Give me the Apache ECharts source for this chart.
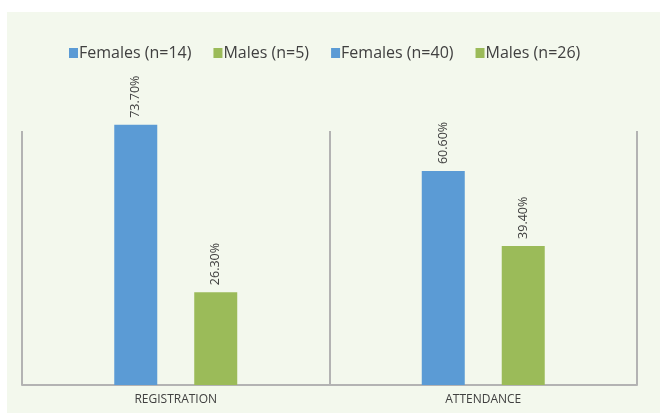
<!DOCTYPE html>
<html>
<head>
<meta charset="utf-8">
<script src="https://cdn.jsdelivr.net/npm/echarts@6/dist/echarts.min.js"></script>
<style>
  html, body { margin: 0; padding: 0; background: #fff; }
  #chart { width: 660px; height: 413px; }
</style>
</head>
<body>
<div id="chart"></div>
<script>
var categories = ['REGISTRATION', 'ATTENDANCE'];
var seriesNames = ['Females (n=14)', 'Males (n=5)', 'Females (n=40)', 'Males (n=26)'];
var femalesReg = [73.7, null];
var malesReg = [26.3, null];
var femalesAtt = [null, 60.6];
var malesAtt = [null, 39.4];

var blue = '#5b9bd5';
var green = '#9bbb59';

function barSeries(name, data, color, stack) {
    return {
        name: name,
        type: 'bar',
        stack: stack,
        data: data,
        barWidth: 43,
        barGap: '86%',
        itemStyle: { color: color },
        label: {
            show: true,
            position: 'top',
            rotate: 90,
            align: 'left',
            verticalAlign: 'middle',
            distance: 7,
            color: '#404040',
            fontSize: 12.5,
            fontFamily: 'Open Sans',
            formatter: function (p) { return p.value.toFixed(2) + '%'; }
        }
    };
}

var chart = echarts.init(document.getElementById('chart'));
chart.setOption({
    backgroundColor: '#ffffff',
    animation: false,
    graphic: [{
        type: 'rect',
        z: -10,
        silent: true,
        shape: { x: 7, y: 12, width: 660, height: 420 },
        style: { fill: '#f3f8ed' }
    }],
    legend: {
        top: 40,
        left: 64,
        itemWidth: 9,
        itemHeight: 10,
        itemGap: 22,
        icon: 'rect',
        data: seriesNames,
        textStyle: {
            fontFamily: 'Open Sans',
            fontSize: 16,
            color: '#404040',
            padding: [0, 0, 0, -4]
        }
    },
    grid: { left: 22, right: 23, top: 32, bottom: 28 },
    xAxis: {
        type: 'category',
        data: categories,
        axisLine: { show: true, lineStyle: { color: '#b3b3b3', width: 2 } },
        axisTick: { show: true, inside: true, interval: 0, length: 254, lineStyle: { color: '#b3b3b3', width: 2 } },
        axisLabel: { color: '#404040', fontSize: 12, fontFamily: 'Open Sans', margin: 9 }
    },
    yAxis: {
        type: 'value',
        min: 0,
        max: 100,
        show: false,
        splitLine: { show: false }
    },
    series: [
        barSeries(seriesNames[0], femalesReg, blue, 'f'),
        barSeries(seriesNames[1], malesReg, green, 'm'),
        barSeries(seriesNames[2], femalesAtt, blue, 'f'),
        barSeries(seriesNames[3], malesAtt, green, 'm')
    ]
});
</script>
</body>
</html>
